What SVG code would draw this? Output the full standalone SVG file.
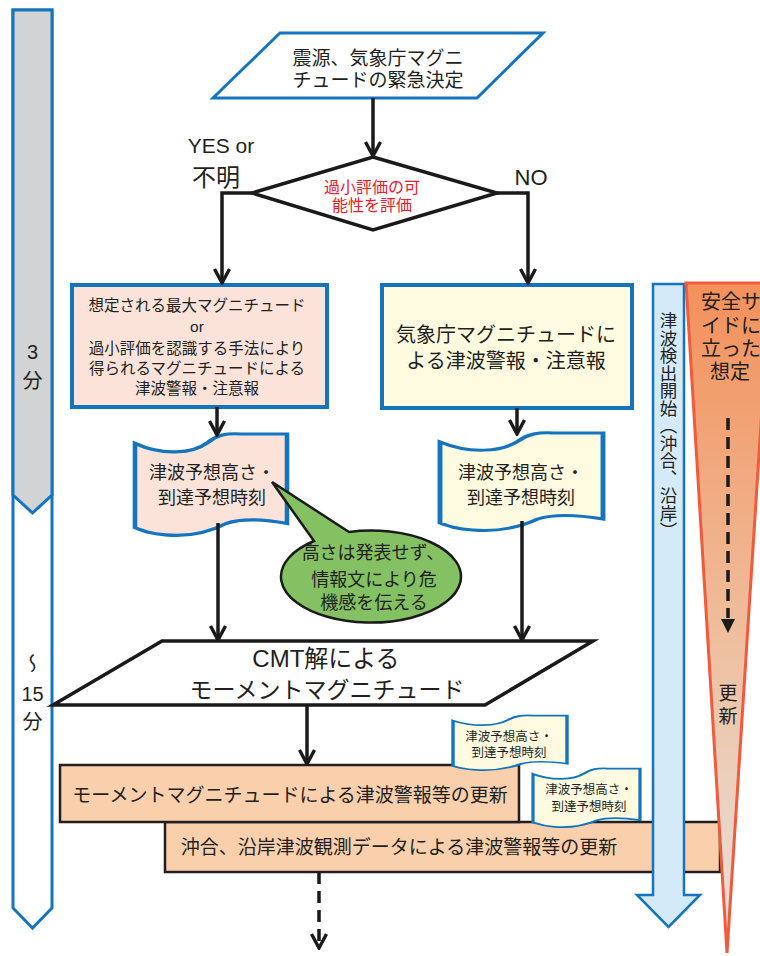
<svg xmlns="http://www.w3.org/2000/svg" xmlns:xlink="http://www.w3.org/1999/xlink" width="760" height="956" viewBox="0 0 760 956">
<style>
text{font-family:"Liberation Sans","Noto Sans CJK JP",sans-serif;fill:#231f20;text-anchor:middle;dominant-baseline:central}
.vt{font-family:"Noto Sans CJK JP",sans-serif;writing-mode:vertical-rl;text-orientation:upright;text-anchor:start}
.blue{stroke:#1474be;stroke-width:3;stroke-linejoin:miter}
.conn{fill:none;stroke:#1a1a1a;stroke-width:3.5;stroke-linecap:butt}
.box{stroke:#1474be;stroke-width:4}
.band{fill:#f9cfac;stroke:#231f20;stroke-width:2.5}
.doc{stroke:#1474be;stroke-width:3;vector-effect:non-scaling-stroke}
</style>
<defs>
<marker id="ah" viewBox="0 0 18 18" refX="16" refY="9" markerWidth="18" markerHeight="18" markerUnits="userSpaceOnUse" orient="auto">
<path d="M2,1.5 L16,9 L2,16.5" fill="none" stroke="#1a1a1a" stroke-width="3.4"/>
</marker>
<path id="docshape" d="M0,10 C18,22 38,20 48,9 C54,2 60,0 70,1 L100,1 L100,87 C85,83 70,82 60,87 C48,96 35,100 20,98 C10,97 5,94 0,91 Z"/>
<linearGradient id="tri" x1="0" y1="283" x2="0" y2="953" gradientUnits="userSpaceOnUse">
<stop offset="0" stop-color="#f3905a"/>
<stop offset="0.5" stop-color="#efbc9a"/>
<stop offset="1" stop-color="#e6e4e0"/>
</linearGradient>
</defs>

<g id="timebar">
<polygon class="blue" points="13,10 52,10 52,908 32.5,928 13,908" fill="#ffffff"/>
<polygon class="blue" points="13,10 52,10 52,495 32.5,513 13,495" fill="#d1d3d4"/>
<text x="32.5" y="352" font-size="20">3</text>
<text x="32.5" y="381" font-size="20">分</text>
<text class="vt" x="32.5" y="653" font-size="20">〜</text>
<text x="32.5" y="694" font-size="20">15</text>
<text x="32.5" y="722" font-size="20">分</text>
</g>

<g id="n-start">
<polygon class="blue" points="280,33 543,33 477,98 213,98" fill="#ffffff"/>
<text x="378" y="58" font-size="19">震源、気象庁マグニ</text>
<text x="378" y="80" font-size="19">チュードの緊急決定</text>
</g>

<g id="n-decision">
<polygon points="373,157 497,193 373,230 252,193" fill="#ffffff" stroke="#1a1a1a" stroke-width="3.5"/>
<text x="372" y="187" font-size="16" style="fill:#e8202a">過小評価の可</text>
<text x="372" y="205" font-size="16" style="fill:#e8202a">能性を評価</text>
</g>

<g id="labels">
<text x="221" y="145" font-size="21">YES or</text>
<text x="216" y="177" font-size="24">不明</text>
<text x="531" y="177" font-size="22">NO</text>
</g>

<g id="n-leftbox">
<rect class="box" x="72" y="285" width="255" height="122" fill="#fbe3d9"/>
<text x="197" y="305" font-size="15.5">想定される最大マグニチュード</text>
<text x="197" y="326" font-size="15.5">or</text>
<text x="197" y="348" font-size="15.5">過小評価を認識する手法により</text>
<text x="197" y="368" font-size="15.5">得られるマグニチュードによる</text>
<text x="197" y="388" font-size="15.5">津波警報・注意報</text>
</g>

<g id="n-rightbox">
<rect class="box" x="382" y="285" width="250" height="123" fill="#fefbe1"/>
<text x="506" y="335" font-size="20">気象庁マグニチュードに</text>
<text x="506" y="361" font-size="20">よる津波警報・注意報</text>
</g>

<g id="n-doc-left">
<use xlink:href="#docshape" class="doc" fill="#fbe3d9" transform="translate(135,433) scale(1.52,1.04)"/>
<text x="212" y="473" font-size="18">津波予想高さ・</text>
<text x="212" y="498" font-size="18">到達予想時刻</text>
</g>

<g id="n-doc-right">
<use xlink:href="#docshape" class="doc" fill="#fefbe1" transform="translate(440,432) scale(1.63,1.0)"/>
<text x="521" y="473" font-size="18">津波予想高さ・</text>
<text x="521" y="498" font-size="18">到達予想時刻</text>
</g>

<g id="n-callout">
<path d="M314,541 L272,482 L349,532 A90,46 0 1 1 314,541 Z" fill="#84c163" stroke="#1a1a1a" stroke-width="2.5" stroke-linejoin="miter"/>
<text x="373" y="553" font-size="18">高さは発表せず、</text>
<text x="374" y="580" font-size="18">情報文により危</text>
<text x="374" y="603" font-size="18">機感を伝える</text>
</g>

<g id="n-cmt">
<polygon points="162,641 593,641 485,705 53,705" fill="#ffffff" stroke="#1a1a1a" stroke-width="3.5"/>
<text x="326" y="658" font-size="24">CMT解による</text>
<text x="327" y="690" font-size="23">モーメントマグニチュード</text>
</g>

<g id="n-band2">
<rect class="band" x="165" y="822" width="555" height="50"/>
<text x="399" y="847" font-size="19">沖合、沿岸津波観測データによる津波警報等の更新</text>
</g>

<g id="n-band1">
<rect class="band" x="60" y="765" width="459" height="57"/>
<text x="290" y="795" font-size="19">モーメントマグニチュードによる津波警報等の更新</text>
</g>

<g id="n-doc-small-a">
<use xlink:href="#docshape" class="doc" fill="#fefbe1" transform="translate(453,715) scale(1.14,0.56)"/>
<text x="509" y="737" font-size="12.5">津波予想高さ・</text>
<text x="509" y="753" font-size="12.5">到達予想時刻</text>
</g>

<g id="n-doc-small-b">
<use xlink:href="#docshape" class="doc" fill="#fefbe1" transform="translate(533,768) scale(1.07,0.6)"/>
<text x="589" y="790" font-size="12.5">津波予想高さ・</text>
<text x="589" y="807" font-size="12.5">到達予想時刻</text>
</g>

<g id="connectors">
<line class="conn" x1="373" y1="98" x2="373" y2="156" marker-end="url(#ah)"/>
<polyline class="conn" points="252,193 222,193 222,283" marker-end="url(#ah)"/>
<polyline class="conn" points="497,193 528,193 528,283" marker-end="url(#ah)"/>
<line class="conn" x1="217" y1="407" x2="217" y2="435" marker-end="url(#ah)"/>
<line class="conn" x1="517" y1="408" x2="517" y2="434" marker-end="url(#ah)"/>
<line class="conn" x1="218" y1="523" x2="218" y2="640" marker-end="url(#ah)"/>
<line class="conn" x1="522" y1="521" x2="522" y2="640" marker-end="url(#ah)"/>
<line class="conn" x1="307" y1="705" x2="307" y2="764" marker-end="url(#ah)"/>
<line class="conn" x1="319" y1="872" x2="319" y2="948" stroke-dasharray="12 7" marker-end="url(#ah)"/>
</g>

<g id="n-detect">
<polygon points="653,284 684,284 684,895 700,895 668.5,927 637,895 653,895" fill="#d5eaf8" stroke="#1474be" stroke-width="2.5"/>
<text class="vt" x="668.5" y="312" font-size="17.5">津波検出開始（沖合、沿岸）</text>
</g>

<g id="n-safe">
<polygon points="686,283 770,283 727,953" fill="url(#tri)" stroke="#f15a3d" stroke-width="3"/>
<text x="731" y="302" font-size="20">安全サ</text>
<text x="731" y="326" font-size="20">イドに</text>
<text x="731" y="349" font-size="20">立った</text>
<text x="730" y="372" font-size="20">想定</text>
<line x1="728" y1="418" x2="728" y2="618" stroke="#1a1a1a" stroke-width="3.5" stroke-dasharray="12 7"/>
<polygon points="721,619 735,619 728,633" fill="#1a1a1a"/>
<text x="728" y="693" font-size="19">更</text>
<text x="728" y="716" font-size="19">新</text>
</g>
</svg>
